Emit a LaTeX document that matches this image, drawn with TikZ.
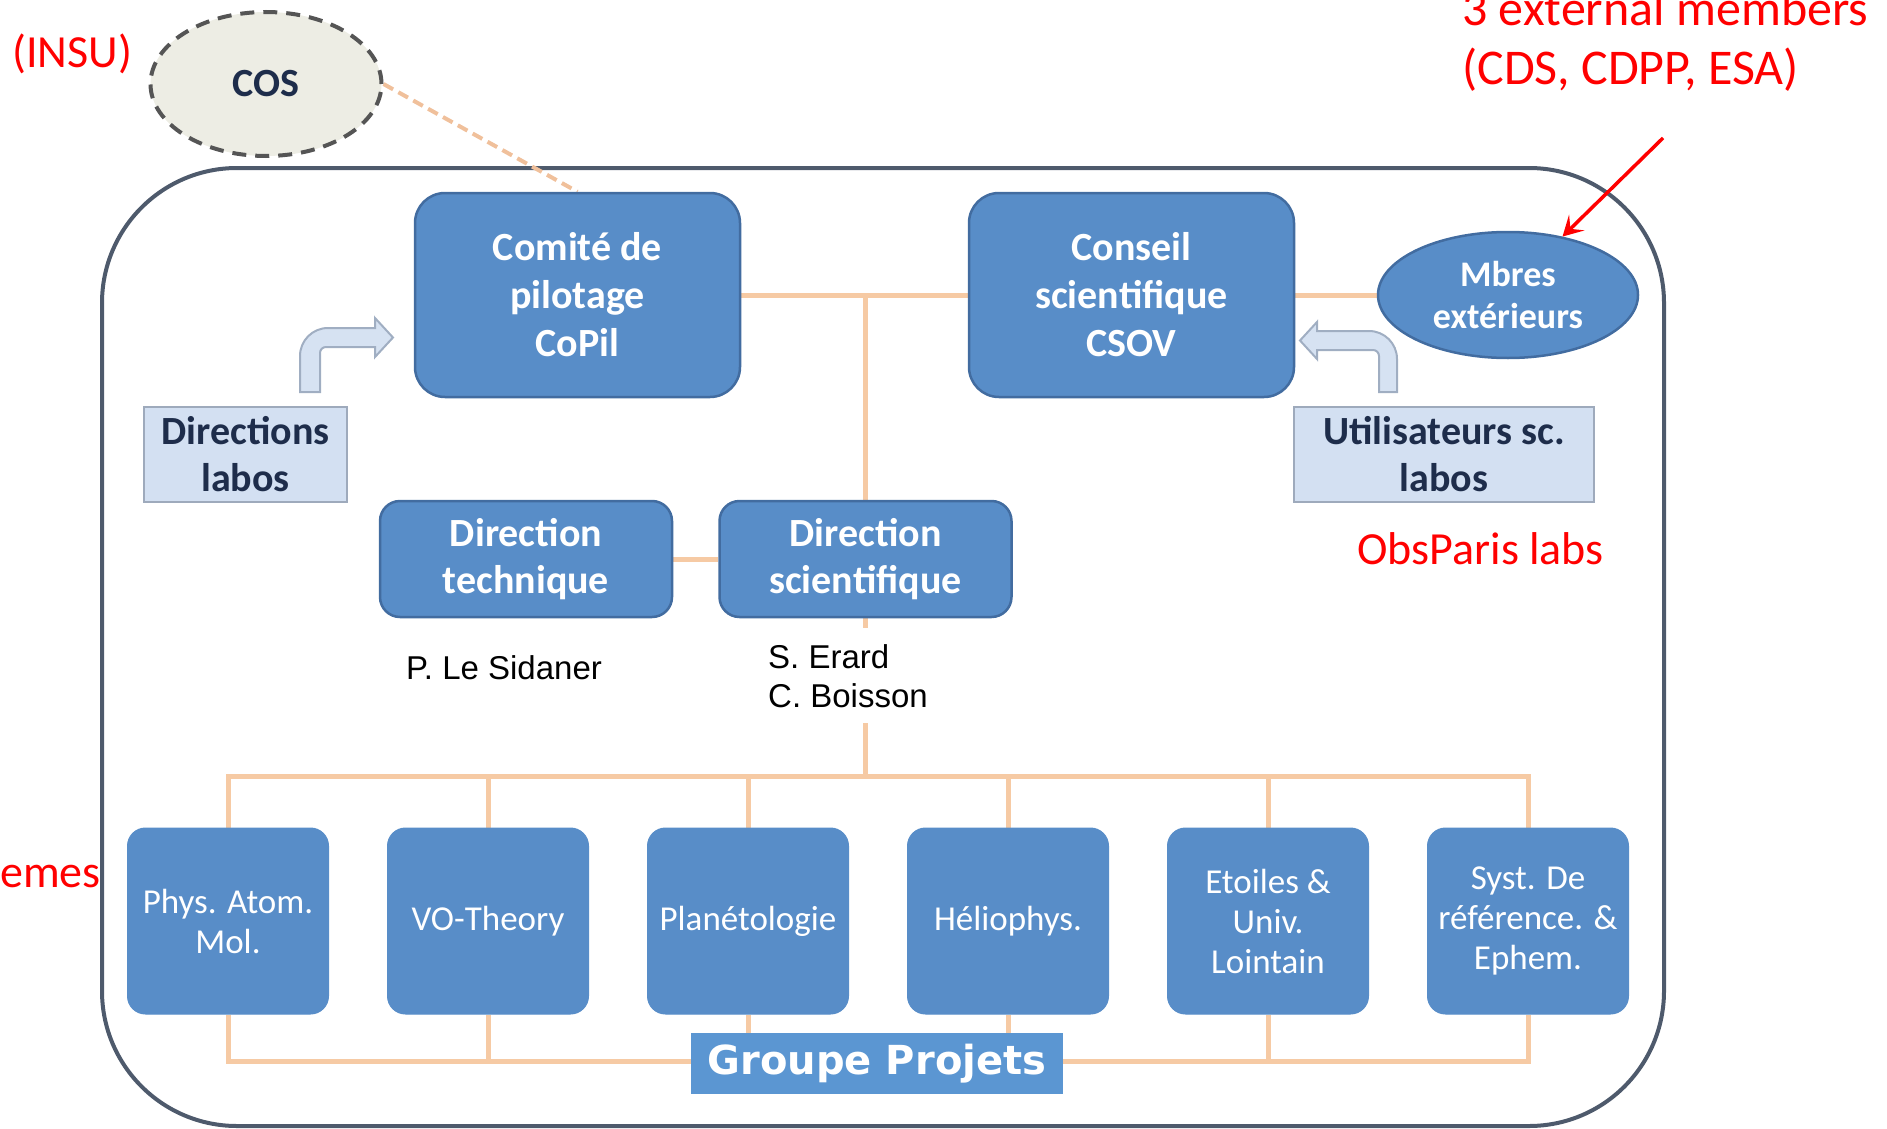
\documentclass[tikz,border=0pt]{standalone}
\usepackage{fontspec}
\setmainfont{Carlito}
\newfontfamily\arialfont{Liberation Sans}
\newfontfamily\verdfont{DejaVu Sans}
\usetikzlibrary{arrows.meta,shapes.geometric,backgrounds}
\definecolor{boxblue}{RGB}{88,141,200}
\definecolor{boxedge}{RGB}{66,108,160}
\definecolor{lightfill}{RGB}{211,224,242}
\definecolor{lightedge}{RGB}{158,170,188}
\definecolor{navy}{RGB}{30,45,75}
\definecolor{connorange}{RGB}{246,202,164}
\definecolor{dashorange}{RGB}{240,192,155}
\definecolor{outeredge}{RGB}{78,90,108}
\definecolor{cosfill}{RGB}{237,237,228}
\definecolor{cosedge}{RGB}{85,85,85}
\definecolor{arrowfill}{RGB}{214,226,242}
\definecolor{arrowedge}{RGB}{160,174,194}
\definecolor{groupblue}{RGB}{91,150,210}
\begin{document}
\begin{tikzpicture}[x=1pt,y=-1pt,
  bigbox/.style={draw=boxedge, line width=2.5pt, fill=boxblue, rounded corners=30pt,
    minimum width=325pt, minimum height=204pt, text=white, align=center,
    font=\bfseries\fontsize{40}{48}\selectfont},
  dirbox/.style={draw=boxedge, line width=2.5pt, fill=boxblue, rounded corners=20pt,
    minimum width=292pt, minimum height=116pt, text=white, align=center,
    font=\bfseries\fontsize{40}{47}\selectfont},
  lightbox/.style={draw=lightedge, line width=2.5pt, fill=lightfill, rectangle,
    minimum height=95pt, text=navy, align=center,
    font=\bfseries\fontsize{40}{47}\selectfont},
  themebox/.style={draw=boxblue, line width=1pt, fill=boxblue, rounded corners=18pt,
    minimum width=201pt, minimum height=186pt, text=white, align=center,
    font=\fontsize{35}{40}\selectfont},
  mbresnode/.style={ellipse, draw=boxedge, line width=2.5pt, fill=boxblue,
    minimum width=260pt, minimum height=126pt, inner sep=0pt, text=white, align=center,
    font=\bfseries\fontsize{36}{42}\selectfont},
  cosnode/.style={ellipse, draw=cosedge, fill=cosfill, line width=4pt,
    dash pattern=on 14pt off 9pt, minimum width=231pt, minimum height=144pt,
    text=navy, font=\bfseries\fontsize{40}{48}\selectfont},
  groupbox/.style={rectangle, fill=groupblue, minimum width=372pt, minimum height=61pt,
    text=white, font=\verdfont\bfseries\fontsize{40}{48}\selectfont},
  redtext/.style={text=red, inner sep=0pt, font=\fontsize{46}{57}\selectfont},
  bigred/.style={text=red, inner sep=0pt, font=\fontsize{50}{60}\selectfont},
  nametext/.style={text=black, font=\arialfont\fontsize{33}{39}\selectfont},
  conn/.style={draw=connorange, line width=5pt},
  outerbox/.style={draw=outeredge, line width=4pt, rounded corners=135pt},
  bentarrow/.style={fill=arrowfill, draw=arrowedge, line width=2pt},
  redarrow/.style={draw=red, line width=3.5pt, -{Stealth[length=20pt,width=22pt,inset=9pt]}}
]
\useasboundingbox (0,0) rectangle (1887,1129);

% nodes
\node[cosnode] (COS) at (266,84) {COS};
\node[bigbox] (CoPil) at (577.5,295) {Comité de\\pilotage\\CoPil};
\node[bigbox] (CSOV) at (1131.5,295) {Conseil\\scientifique\\CSOV};
\node[mbresnode] (Mbres) at (1508,295) {Mbres\\extérieurs};
\node[lightbox, minimum width=203pt] (DL) at (245.5,454.5) {Directions\\labos};
\node[lightbox, minimum width=300pt] (UL) at (1444,454.5) {Utilisateurs sc.\\labos};
\node[dirbox] (DT) at (526,559) {Direction\\technique};
\node[dirbox] (DS) at (865.5,559) {Direction\\scientifique};

\node[themebox] (b1) at (228,921) {Phys. Atom.\\Mol.};
\node[themebox] (b2) at (488,921) {VO-Theory};
\node[themebox] (b3) at (748,921) {Planétologie};
\node[themebox] (b4) at (1008,921) {Héliophys.};
\node[themebox] (b5) at (1268,921) {Etoiles \&\\Univ.\\Lointain};
\node[themebox] (b6) at (1528,921) {Syst. De\\référence. \&\\Ephem.};

\node[groupbox] (GP) at (877,1063.5) {Groupe Projets};

\node[nametext, inner sep=0pt, anchor=base west] (PLS) at (406,679) {P. Le Sidaner};
\node[nametext, fill=white, inner xsep=8pt, inner ysep=16pt, align=left, anchor=north west] (SEC) at (760,628) {S. Erard\\C. Boisson};

\node[redtext, anchor=base west] (INSU) at (12,68) {(INSU)};
\node[bigred, anchor=base west] (ext1) at (1462,26) {3 external members};
\node[bigred, anchor=base west] (ext2) at (1462,85) {(CDS, CDPP, ESA)};
\node[redtext, anchor=base west] (OPL) at (1357,564) {ObsParis labs};
\node[redtext, anchor=base west] (emes) at (0,887) {emes};

\coordinate (topbus) at (0,776);
\coordinate (botbus) at (0,1061);
\coordinate (extStart) at (1663,138);

% connectors behind
\begin{scope}[on background layer]
  \draw[outerbox] (102,168) rectangle (1664,1126);
  \draw[draw=dashorange, line width=4pt, dash pattern=on 11pt off 6pt] (COS.east) -- (CoPil.north);
  \draw[conn] (CoPil) -- (CSOV);
  \draw[conn] (CSOV) -- (Mbres);
  \draw[conn] (DS.north) -- (DS.north |- CoPil.east);
  \draw[conn] (DT) -- (DS);
  \draw[conn] (DS.south) -- (DS.south |- topbus);
  \draw[conn] (b1.north) -- (b1.north |- topbus) -- (b6.north |- topbus) -- (b6.north);
  \foreach \b in {b2,b3,b4,b5} { \draw[conn] (\b.north) -- (\b.north |- topbus); }
  \draw[conn] (b1.south) -- (b1.south |- botbus) -- (b6.south |- botbus) -- (b6.south);
  \foreach \b in {b2,b3,b4,b5} { \draw[conn] (\b.south) -- (\b.south |- botbus); }
\end{scope}

% bent arrows
\draw[bentarrow] (300,392) -- (300,356) .. controls (300,340.5) and (312.5,328) .. (328,328)
  -- (375,328) -- (375,318) -- (393,337.5) -- (375,357) -- (375,347) -- (326,347)
  .. controls (322.7,347) and (320,349.7) .. (320,353) -- (320,392) -- cycle;
\draw[bentarrow] (1397,392) -- (1397,359) .. controls (1397,343.5) and (1384.5,331) .. (1369,331)
  -- (1317,331) -- (1317,322) -- (1300,340.5) -- (1317,359) -- (1317,350) -- (1373,350)
  .. controls (1376.3,350) and (1379,352.7) .. (1379,356) -- (1379,392) -- cycle;

% red arrow
\draw[redarrow] (extStart) -- (Mbres.47);
\end{tikzpicture}
\end{document}
